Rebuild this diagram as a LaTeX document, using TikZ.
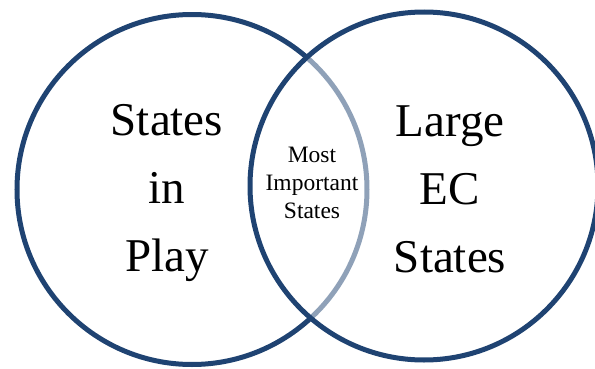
\documentclass[tikz,border=0pt]{standalone}
\usepackage{fontspec}
\setmainfont{Liberation Serif}
\usepackage{tikz}
\usetikzlibrary{positioning}
\definecolor{vennblue}{RGB}{31,67,114}

\begin{document}
\begin{tikzpicture}[x=1pt,y=1pt,
    ring/.style={circle,draw=vennblue,line width=5pt,inner sep=0pt},
    big/.style={align=center,font=\fontsize{47}{68}\selectfont},
    small/.style={align=center,font=\fontsize{23.5}{28}\selectfont}]
   \useasboundingbox (0,0) rectangle (595,368);
   \node[ring,minimum size=350pt] (inplay) at (192,178.5) {};
   \node[ring,minimum size=348pt,fill=white,fill opacity=0.5] (largeec) at (424,182) {};
   \node[big] (play) at (167,175) {States\\in\\Play};
   \node[big] (large) at (450,179) {Large\\EC\\States};
   \node[small] (most) at (312,185) {Most\\Important\\States};
\end{tikzpicture}
\end{document}
